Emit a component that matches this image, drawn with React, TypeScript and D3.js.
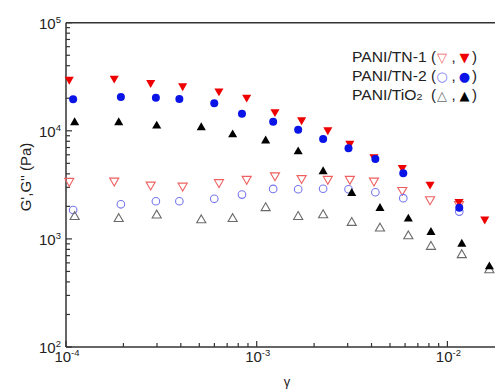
import * as d3 from 'd3'
import { useEffect, useRef } from 'react';

// strain values (gamma) and moduli
var tn1X = [1.04e-4, 1.79e-4, 2.78e-4, 4.09e-4, 6.34e-4, 8.86e-4, 1.247e-3, 1.72e-3, 2.36e-3, 3.08e-3, 4.12e-3, 5.80e-3, 8.11e-3, 1.15e-2, 1.57e-2];
var tn1G1 = [2.99e4, 3.06e4, 2.79e4, 2.60e4, 2.33e4, 2.04e4, 1.50e4, 1.26e4, 1.02e4, 7.65e3, 5.75e3, 4.56e3, 3.20e3, 2.21e3, 1.52e3];
var tn1G2 = [3.43e3, 3.45e3, 3.17e3, 3.10e3, 3.34e3, 3.58e3, 3.86e3, 3.64e3, 3.58e3, 3.58e3, 3.45e3, 2.83e3, 2.32e3, 2.10e3, null];

var tn2X = [1.09e-4, 1.94e-4, 2.96e-4, 3.93e-4, 5.99e-4, 8.37e-4, 1.22e-3, 1.65e-3, 2.23e-3, 3.03e-3, 4.19e-3, 5.87e-3, 1.154e-2];
var tn2G1 = [1.96e4, 2.05e4, 2.02e4, 1.97e4, 1.80e4, 1.44e4, 1.21e4, 1.02e4, 8.39e3, 6.89e3, 5.48e3, 4.04e3, 1.94e3];
var tn2G2 = [1.85e3, 2.09e3, 2.23e3, 2.23e3, 2.35e3, 2.57e3, 2.90e3, 2.88e3, 2.91e3, 2.88e3, 2.70e3, 2.38e3, 1.79e3];

var tioX = [1.11e-4, 1.89e-4, 2.99e-4, 5.12e-4, 7.48e-4, 1.114e-3, 1.65e-3, 2.23e-3, 3.15e-3, 4.43e-3, 6.24e-3, 8.20e-3, 1.19e-2, 1.66e-2];
var tioG1 = [1.19e4, 1.19e4, 1.11e4, 1.07e4, 9.20e3, 8.09e3, 6.41e3, 4.19e3, 2.64e3, 1.92e3, 1.53e3, 1.15e3, 8.97e2, 5.53e2];
var tioG2 = [1.60e3, 1.53e3, 1.65e3, 1.49e3, 1.53e3, 1.93e3, 1.60e3, 1.66e3, 1.41e3, 1.25e3, 1.06e3, 8.47e2, 7.10e2, 5.15e2];

var xMajor = [-4, -3, -2];
var yMajor = [2, 3, 4, 5];

function drawChart(node: SVGSVGElement) {
    var svg = d3.select(node);
    svg.selectAll('*').remove();

    var left = 66, right = 495.5, top = 22.7, bottom = 347;
    var scX = d3.scaleLog().domain([1e-4, 1e-4 * Math.pow(10, (right - left) / 190.7)]).range([left, right]);
    var scY = d3.scaleLog().domain([1e2, 1e5]).range([bottom, top]);

    var font = "'Liberation Sans', Arial, sans-serif";
    var axisCol = '#333';

    // frame
    svg.append('line').attr('x1', left).attr('x2', right).attr('y1', top).attr('y2', top)
        .attr('stroke', axisCol).attr('stroke-width', 1.5);
    svg.append('line').attr('x1', left).attr('x2', right).attr('y1', bottom).attr('y2', bottom)
        .attr('stroke', axisCol).attr('stroke-width', 1.5);
    svg.append('line').attr('x1', left).attr('x2', left).attr('y1', top).attr('y2', bottom)
        .attr('stroke', axisCol).attr('stroke-width', 1.5);

    // x ticks (inward)
    var xt: number[] = [];
    for (var e = -4; e <= -2; e++) for (var m = 1; m < 10; m++) xt.push(m * Math.pow(10, e));
    xt = xt.filter(v => scX(v) <= right);
    svg.selectAll('line.xt').data(xt).enter().append('line')
        .attr('x1', d => scX(d)).attr('x2', d => scX(d))
        .attr('y1', bottom).attr('y2', (d, i) => bottom - (i % 9 === 0 ? 6 : 4))
        .attr('stroke', axisCol).attr('stroke-width', 1.2);

    var yt: number[] = [];
    for (var e2 = 2; e2 <= 4; e2++) for (var m2 = 1; m2 < 10; m2++) yt.push(m2 * Math.pow(10, e2));
    yt.push(1e5);
    svg.selectAll('line.yt').data(yt).enter().append('line')
        .attr('y1', d => scY(d)).attr('y2', d => scY(d))
        .attr('x1', left).attr('x2', (d, i) => left + (i % 9 === 0 ? 6 : 4))
        .attr('stroke', axisCol).attr('stroke-width', 1.2);

    // tick labels
    var xl = svg.selectAll('text.xl').data(xMajor).enter().append('text')
        .attr('x', d => scX(Math.pow(10, d)) + 1).attr('y', 362)
        .attr('text-anchor', 'middle').attr('font-family', font).attr('font-size', 15).attr('fill', '#222');
    xl.append('tspan').text('10');
    xl.append('tspan').attr('dy', -6).attr('font-size', 9.5).text(d => '-' + Math.abs(d));

    var yl = svg.selectAll('text.yl').data(yMajor).enter().append('text')
        .attr('x', 61).attr('y', d => scY(Math.pow(10, d)) + 6)
        .attr('text-anchor', 'end').attr('font-family', font).attr('font-size', 15).attr('fill', '#222');
    yl.append('tspan').text('10');
    yl.append('tspan').attr('dy', -6).attr('font-size', 9.5).text(d => String(d));

    // axis titles
    svg.append('text').attr('transform', 'translate(31,177) rotate(-90)')
        .attr('text-anchor', 'middle').attr('font-family', font).attr('font-size', 15).attr('fill', '#222')
        .text("G',G'' (Pa)");
    svg.append('text').attr('x', 287).attr('y', 386).attr('text-anchor', 'middle')
        .attr('font-family', font).attr('font-size', 13).attr('fill', '#222').text('γ');

    // markers
    var tri = d3.symbol().type(d3.symbolTriangle).size(36)();
    function plot(xs: number[], ys: (number | null)[], kind: string, col: string, filled: boolean) {
        var pts = xs.map((x, i) => [x, ys[i]]).filter(p => p[1] != null) as number[][];
        var g = svg.append('g');
        if (kind === 'circle') {
            g.selectAll('circle').data(pts).enter().append('circle')
                .attr('cx', d => scX(d[0])).attr('cy', d => scY(d[1])).attr('r', filled ? 4 : 3.8)
                .attr('fill', filled ? col : 'none').attr('stroke', col).attr('stroke-width', filled ? 0 : 1.1);
        } else {
            var rot = kind === 'down' ? 180 : 0;
            g.selectAll('path').data(pts).enter().append('path')
                .attr('d', tri as string)
                .attr('transform', d => 'translate(' + scX(d[0]) + ',' + scY(d[1]) + ') rotate(' + rot + ')')
                .attr('fill', filled ? col : 'none').attr('stroke', col).attr('stroke-width', filled ? 0 : 1.1);
        }
    }
    plot(tn1X, tn1G2, 'down', '#ee6060', false);
    plot(tn2X, tn2G2, 'circle', '#7777ee', false);
    plot(tioX, tioG2, 'up', '#6a6a6a', false);
    plot(tioX, tioG1, 'up', '#000000', true);
    plot(tn1X, tn1G1, 'down', '#ee0000', true);
    plot(tn2X, tn2G1, 'circle', '#0a14e6', true);

    // legend
    var leg = [
        { name: 'PANI/TN-1', sub: '', a: '▽', b: '▼', ca: '#ee6060', cb: '#ee0000' },
        { name: 'PANI/TN-2', sub: '', a: '○', b: '●', ca: '#7777ee', cb: '#0a14e6' },
        { name: 'PANI/TiO', sub: '2', a: '△', b: '▲', ca: '#6a6a6a', cb: '#000000' }
    ];
    var rows = svg.selectAll('g.leg').data(leg).enter().append('g')
        .attr('transform', (d, i) => 'translate(0,' + (62 + i * 19) + ')')
        .attr('font-family', font).attr('fill', '#222');
    var nm = rows.append('text').attr('transform', 'translate(352,0) scale(1.12,1)').attr('font-size', 14);
    nm.append('tspan').text(d => d.name);
    nm.filter(d => d.sub !== '').append('tspan').attr('font-size', 9.5).text(d => d.sub);
    rows.append('text').attr('x', 431).attr('font-size', 15).text('(');
    rows.append('text').attr('x', 442).attr('text-anchor', 'middle').attr('font-size', 13)
        .attr('font-family', "'DejaVu Sans', sans-serif").attr('fill', d => d.ca).text(d => d.a);
    rows.append('text').attr('x', 451.5).attr('font-size', 15).text(',');
    rows.append('text').attr('x', 464.5).attr('text-anchor', 'middle').attr('font-size', 13)
        .attr('font-family', "'DejaVu Sans', sans-serif").attr('fill', d => d.cb).text(d => d.b);
    rows.append('text').attr('x', 472).attr('font-size', 15).text(')');
}

function App() {
    var ref = useRef<SVGSVGElement>(null);
    useEffect(() => {
        if (ref.current) drawChart(ref.current);
    });
    return (
        <div style={{ position: 'absolute', left: 0, top: 0 }}>
            <svg ref={ref} width={495} height={389} style={{ display: 'block', background: 'white' }}></svg>
        </div>
    );
}

export default App;
